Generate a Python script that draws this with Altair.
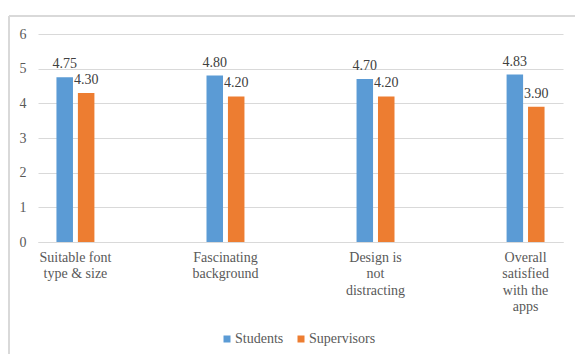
import altair as alt
import pandas as pd

categories = [
    "Suitable font\ntype & size",
    "Fascinating\nbackground",
    "Design is\nnot\ndistracting",
    "Overall\nsatisfied\nwith the\napps",
]
series = ["Students", "Supervisors"]
students = [4.75, 4.80, 4.70, 4.83]
supervisors = [4.30, 4.20, 4.20, 3.90]
y_ticks = [0, 1, 2, 3, 4, 5, 6]
colors = ["#5B9BD5", "#ED7D31"]

rows = []
for c, s, v in zip(categories, students, supervisors):
    rows.append({"category": c, "series": "Students", "value": s})
    rows.append({"category": c, "series": "Supervisors", "value": v})
df = pd.DataFrame(rows)

FONT = "Liberation Serif"
FS = 14

x_enc = alt.X(
    "category:N",
    sort=categories,
    scale=alt.Scale(paddingInner=0.747, paddingOuter=0.123),
    axis=alt.Axis(
        title=None,
        labelAngle=0,
        labelExpr="split(datum.label, '\\n')",
        labelLineHeight=16.5,
        labelPadding=8,
        labelColor="#595959",
        labelFontSize=FS,
        labelFont=FONT,
        ticks=False,
        domainColor="#D9D9D9",
        domainWidth=1,
        grid=False,
    ),
)
xoff = alt.XOffset("series:N", sort=series, scale=alt.Scale(paddingInner=0.23, paddingOuter=0))
y_enc = alt.Y(
    "value:Q",
    scale=alt.Scale(domain=[0, 6], nice=False),
    axis=alt.Axis(
        title=None,
        values=y_ticks,
        tickCount=7,
        labelOverlap=False,
        format="d",
        domain=False,
        ticks=False,
        labelPadding=12,
        labelColor="#595959",
        labelFontSize=FS,
        labelFont=FONT,
        gridColor="#D9D9D9",
        gridWidth=1,
    ),
)
color_enc = alt.Color(
    "series:N",
    sort=series,
    scale=alt.Scale(domain=series, range=colors),
    legend=alt.Legend(
        title=None,
        orient="none",
        legendX=182,
        legendY=298,
        direction="horizontal",
        symbolType="square",
        symbolSize=49,
        symbolStrokeWidth=0,
        labelFontSize=FS,
        labelFont=FONT,
        labelColor="#595959",
        labelOffset=1,
        columnPadding=10,
    ),
)

bars = alt.Chart(df).mark_bar().encode(x=x_enc, xOffset=xoff, y=y_enc, color=color_enc)
labels = alt.Chart(df).mark_text(
    baseline="alphabetic", dy=-9, fontSize=FS, font=FONT, color="#404040"
).encode(
    x=x_enc,
    xOffset=xoff,
    y=y_enc,
    text=alt.Text("value:Q", format=".2f"),
)

border_left = alt.Chart(df).mark_rule(color="#D9D9D9", strokeWidth=1.5).encode(
    x=alt.value(-29), y=alt.value(-18), y2=alt.value(330)
)
border_top = alt.Chart(df).mark_rule(color="#D9D9D9", strokeWidth=1.5).encode(
    x=alt.value(-29), x2=alt.value(545), y=alt.value(-18)
)

chart = (
    alt.layer(border_left, border_top, bars, labels)
    .properties(
        width=525,
        height=208,
        padding={"left": 38, "top": 34, "right": 12, "bottom": 112},
        autosize=alt.AutoSizeParams(type="none"),
        background="white",
    )
    .configure_view(stroke=None)
)

chart.save("out.html", embed_options={"renderer": "svg", "actions": False})
